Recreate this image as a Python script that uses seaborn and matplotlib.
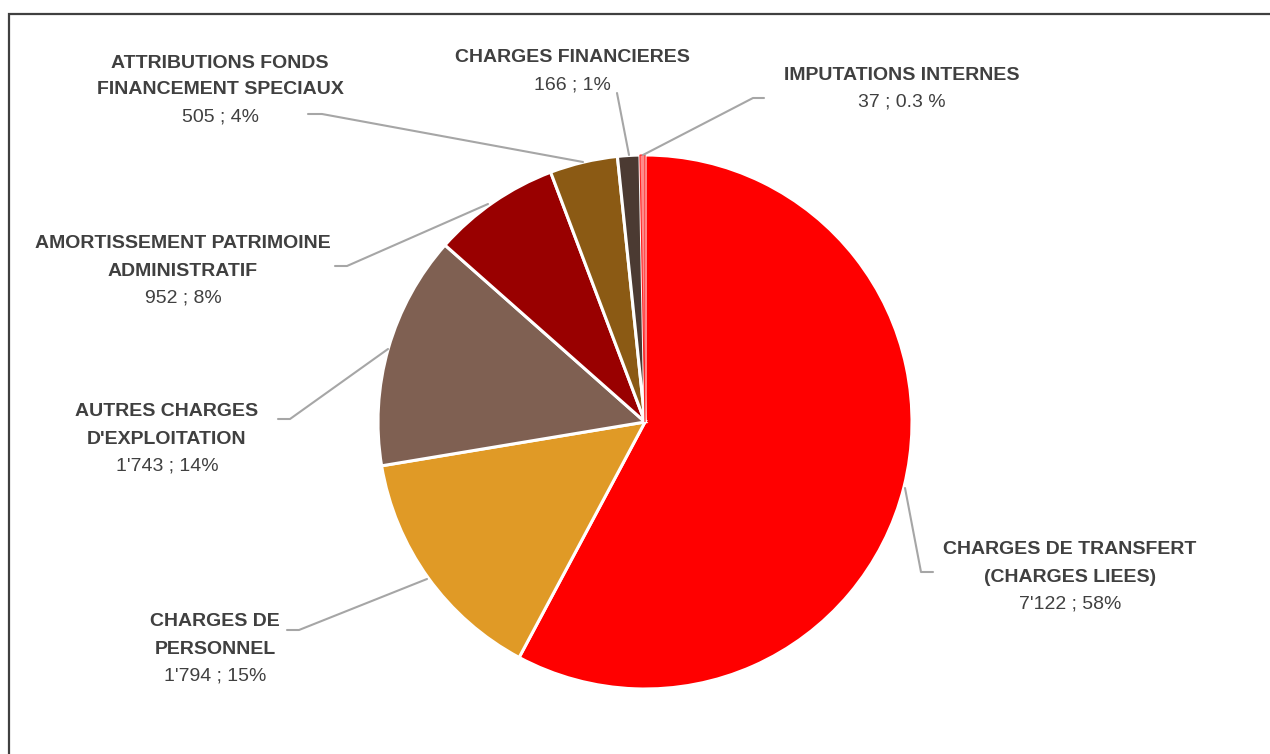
import matplotlib
matplotlib.use("Agg")
import matplotlib.pyplot as plt
import matplotlib.patches as mpatches
import seaborn as sns

# data (clockwise from 12 o'clock)
names = [
    ["CHARGES DE TRANSFERT", "(CHARGES LIEES)"],
    ["CHARGES DE", "PERSONNEL"],
    ["AUTRES CHARGES", "D'EXPLOITATION"],
    ["AMORTISSEMENT PATRIMOINE", "ADMINISTRATIF"],
    ["ATTRIBUTIONS FONDS", "FINANCEMENT SPECIAUX"],
    ["CHARGES FINANCIERES"],
    ["IMPUTATIONS INTERNES"],
]
values = [7122, 1794, 1743, 952, 505, 166, 37]
pct_labels = ["58%", "15%", "14%", "8%", "4%", "1%", "0.3 %"]
colors = ["#FF0000", "#E09A26", "#7F6052", "#990000", "#8B5A14", "#4B3A32", "#FF8A8A"]

sns.set_theme(style="white")
plt.rcParams['font.family'] = ['Liberation Sans', 'DejaVu Sans']

W, H = 1270, 754
fig = plt.figure(figsize=(12.7, 7.54), dpi=100)
ax = fig.add_axes([0, 0, 1, 1])

def Y(y):
    # image pixel row -> data y
    return H - y

wedges, _ = ax.pie(values, colors=colors, startangle=90, counterclock=False,
                   center=(645, Y(422)), radius=267,
                   wedgeprops=dict(edgecolor="white", linewidth=2.2))
wedges[-1].set_edgecolor("#FF2020")
wedges[-1].set_linewidth(0.8)

ax.set_xlim(0, W)
ax.set_ylim(0, H)
ax.set_aspect("equal")
ax.axis("off")

# outer frame
ax.add_patch(mpatches.Rectangle((9, Y(14) - 800), 1300, 800, fill=False,
                                edgecolor="#404040", linewidth=1.6))

# label layout: center x, first line y, leader line points
label_pos = [
    (1070, 550, [(905, 488), (921, 572), (933, 572)]),
    (215, 622, [(427, 579), (299, 630), (287, 630)]),
    (167, 412, [(388, 349), (290, 419), (278, 419)]),
    (183, 244, [(488, 204), (347, 266), (335, 266)]),
    (220, 63, [(583, 162), (322, 114), (308, 114)]),
    (572, 58, [(629, 155), (617, 93)]),
    (902, 75, [(643, 155), (753, 98), (764, 98)]),
]

txt_color = "#404040"
for name, v, pct, (cx, y0, pts) in zip(names, values, pct_labels, label_pos):
    y = y0
    for line in name:
        ax.text(cx, Y(y), line, ha="center", va="center", fontsize=14,
                fontweight="bold", color=txt_color)
        y += 27
    val = f"{v:,}".replace(",", "'") + " ; " + pct
    ax.text(cx, Y(y), val, ha="center", va="center", fontsize=14, color=txt_color)
    ax.plot([p[0] for p in pts], [Y(p[1]) for p in pts], color="#A6A6A6", lw=1.5)

fig.savefig("out.png", dpi=100)
